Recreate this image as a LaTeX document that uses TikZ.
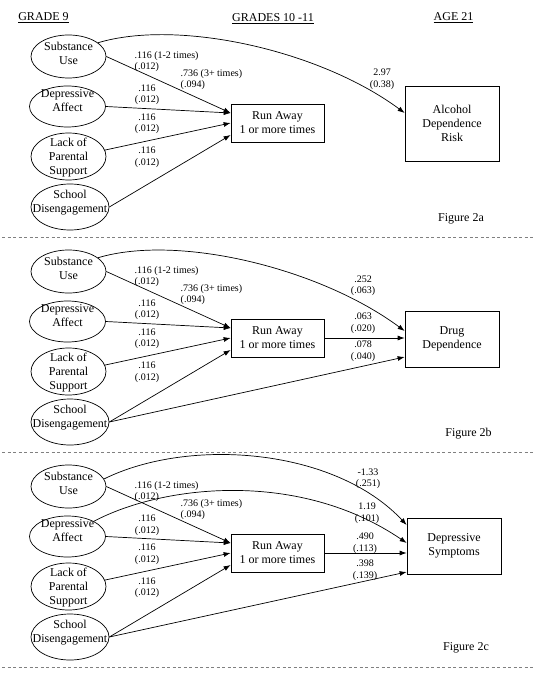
\documentclass[tikz,border=0pt]{standalone}
\usepackage{fontspec}
\setmainfont{Liberation Serif}
\usetikzlibrary{arrows.meta,calc,shapes.geometric}
\tikzset{
  ell/.style={draw,ellipse,inner sep=0pt,line width=0.7pt},
  box/.style={draw,rectangle,inner sep=0pt,line width=0.7pt,align=center,font=\fontsize{12}{14}\selectfont},
  etxt/.style={align=center,inner sep=0pt,font=\fontsize{12}{14}\selectfont},
  lab/.style={inner sep=0pt,align=center,font=\fontsize{10}{11.5}\selectfont},
  labl/.style={inner sep=0pt,align=left,anchor=west,font=\fontsize{10}{11.5}\selectfont},
  arr/.style={-{Latex[length=7pt,width=5pt]},line width=0.7pt},
  sep/.style={draw=gray,dash pattern=on 3pt off 2.5pt,line width=0.8pt},
  hdr/.style={inner sep=0pt,font=\fontsize{12}{14}\selectfont},
  fig/.style={inner sep=0pt,font=\fontsize{12}{14}\selectfont},
}
\newcommand\leftpanel[1]{%
  \node[ell,minimum width=75pt,minimum height=43pt] (su#1) at (68.5,56.5) {};
  \node[etxt] (sut#1) at (68.5,53) {Substance\\Use};
  \node[ell,minimum width=76pt,minimum height=41pt] (da#1) at (67.5,106.5) {};
  \node[etxt] (dat#1) at (67.5,100.5) {Depressive\\Affect};
  \node[ell,minimum width=75pt,minimum height=47pt] (lp#1) at (68.5,156.5) {};
  \node[etxt] (lpt#1) at (68.5,157.5) {Lack of\\Parental\\Support};
  \node[ell,minimum width=78pt,minimum height=46pt] (sd#1) at (70,207) {};
  \node[etxt] (sdt#1) at (70,203) {School\\Disengagement};
  \node[box,minimum width=93pt,minimum height=38pt] (ra#1) at (277.5,123) {Run Away\\1 or more times};
  \draw[arr] (su#1.east) -- ([yshift=10pt]ra#1.west);
  \draw[arr] (da#1.east) -- ([yshift=10pt]ra#1.west);
  \draw[arr] (lp#1.10) -- (ra#1.west);
  \draw[arr] (sd#1.east) -- ([yshift=-12pt]ra#1.west);
  \node[labl] (l1#1) at (134.5,61.5) {.116 (1-2 times)\\(.012)};
  \node[labl] (l2#1) at (180.5,79.5) {.736 (3+ times)\\(.094)};
  \node[lab] (l3#1) at (147,95) {.116\\(.012)};
  \node[lab] (l4#1) at (147,124) {.116\\(.012)};
  \node[lab] (l5#1) at (147,157.5) {.116\\(.012)};
}
\begin{document}
\begin{tikzpicture}[x=1pt,y=-1pt]
\useasboundingbox (0,0) rectangle (547,676);
% headers
\node[hdr] (h1) at (43.5,18) {\underline{GRADE 9}};
\node[hdr] (h2) at (273,18.5) {\underline{GRADES 10 -11}};
\node[hdr] (h3) at (453.5,18) {\underline{AGE 21}};

% ---------- Figure 2a
\begin{scope}
\leftpanel{a}
\node[box,minimum width=94pt,minimum height=75pt] (alc) at (452,123.5) {Alcohol\\Dependence\\Risk};
\draw[arr] (sua.25) .. controls +(80,-24) and +(-85,-63) .. ([yshift=10.5pt]alc.west);
\node[lab] (la6) at (382,79.5) {2.97\\(0.38)};
\node[fig] (fa) at (461,219) {Figure 2a};
\end{scope}
\draw[sep] (2,237) -- (533,237);

% ---------- Figure 2b
\begin{scope}[shift={(0,215)}]
\leftpanel{b}
\node[box,minimum width=94pt,minimum height=56pt] (dd) at (452,124) {Drug\\Dependence};
\draw[arr] (sub.25) .. controls +(80,-24) and +(-85,-63) .. ([yshift=8pt]dd.west);
\draw[arr] (rab.east) -- (rab.east -| dd.west);
\draw[arr] (sdb.east) -- ([yshift=-18pt]dd.west);
\node[lab] (lb6) at (363,71) {.252\\(.063)};
\node[lab] (lb7) at (363,108) {.063\\(.020)};
\node[lab] (lb8) at (363,136) {.078\\(.040)};
\node[fig] (fb) at (468.5,219) {Figure 2b};
\end{scope}
\draw[sep] (2,452.5) -- (533,452.5);

% ---------- Figure 2c
\begin{scope}[shift={(0,430)}]
\leftpanel{c}
\node[box,minimum width=94pt,minimum height=56pt] (ds) at (454,116) {Depressive\\Symptoms};
\draw[arr] (suc.12) .. controls +(85,-42) and +(-72,-77) .. ([yshift=21pt]ds.west);
\draw[arr] (dac.30) .. controls +(70,-37) and +(-107,-73) .. ([yshift=3pt]ds.west);
\draw[arr] (rac.east) -- (rac.east -| ds.west);
\draw[arr] (sdc.east) -- ([yshift=-26pt]ds.west);
\node[lab] (lc6) at (368,48.5) {-1.33\\(.251)};
\node[lab] (lc7) at (367,83) {1.19\\(.101)};
\node[lab] (lc8) at (365,113) {.490\\(.113)};
\node[lab] (lc9) at (365,140) {.398\\(.139)};
\node[fig] (fc) at (466,218) {Figure 2c};
\end{scope}
\draw[sep] (2,667) -- (533,667);
\end{tikzpicture}
\end{document}
